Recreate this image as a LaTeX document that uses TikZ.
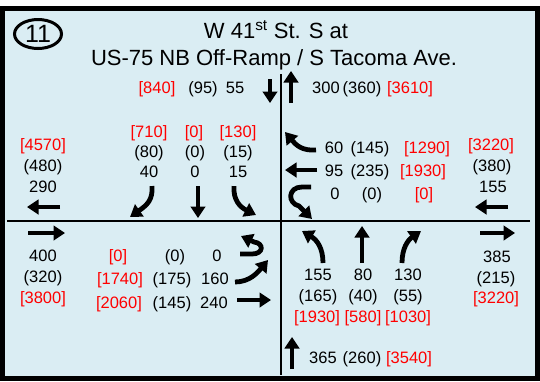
\documentclass[tikz,border=0pt]{standalone}
\usepackage{fontspec}
\setmainfont{Liberation Sans}
\usetikzlibrary{arrows.meta,shapes.geometric}
\definecolor{panelblue}{RGB}{218,237,243}
\definecolor{adtred}{RGB}{255,0,0}
\begin{document}
\begin{tikzpicture}
[x=1pt,y=-1pt,
  countdecorate/.style={font=\fontsize{16.5}{18}\selectfont,inner sep=0pt,text height=11.8pt,text depth=0pt},%
  adtdecorate/.style={countdecorate,text=adtred},%
  titledecorate/.style={font=\fontsize{22}{24}\selectfont,inner sep=0pt,anchor=base},%
  movedecorate/.style={line width=4.8pt,-{Triangle[width=14.5pt,length=11.5pt]}},%
  legdecorate/.style={line width=2.4pt}]
\useasboundingbox (0,0) rectangle (540,381);
%% frame and heading
\draw[line width=5pt,fill=panelblue] (2.5,8.5) rectangle (537.5,378.5);
\node (sitenum) at (38,34) [ellipse,draw,line width=3pt,minimum width=47pt,minimum height=29pt,
  inner sep=0pt,font=\fontsize{25}{25}\selectfont] {11};
\node (title1) at (276,38) [titledecorate] {W 41\textsuperscript{st} St. S at};
\node (title2) at (274,65) [titledecorate] {US-75 NB Off-Ramp / S Tacoma Ave.};
%% roads
\draw[legdecorate] (281,74) -- (281,375);
\draw[legdecorate] (7,221) -- (530,221);
%% counts: peak hours
\foreach \nodename/\x/\y/\vol in {nin-am/235/88/55, nin-pm/203/88/(95), nout-am/326/88/300,
  nout-pm/362/88/(360), wout-pm/43/166/(480), wout-am/43/187/290,
  sbr-pm/149/152/(80), sbr-am/149/172/40, sbt-pm/195/152/(0), sbt-am/195/172/0,
  sbl-pm/238/152/(15), sbl-am/238/172/15,
  wbr-am/334/148/60, wbr-pm/370/148/(145), wbt-am/334/171/95, wbt-pm/370/171/(235),
  wbu-am/335/194/0, wbu-pm/372/194/(0), win-pm/492/166/(380), win-am/493/187/155,
  ein-am/43/256/400, ein-pm/43/277/(320),
  ebu-pm/175/256/(0), ebu-am/217/256/0, ebl-pm/172/279/(175), ebl-am/215/279/160,
  ebt-pm/172/303/(145), ebt-am/214/303/240,
  nbl-am/318/275/155, nbl-pm/318/296/(165), nbt-am/363/275/80, nbt-pm/363/296/(40),
  nbr-am/408/275/130, nbr-pm/408/296/(55), eout-am/497/257/385, eout-pm/496/278/(215),
  sin-am/323/358/365, sin-pm/362/358/(260)} {
  \node (\nodename) at (\x,\y) [countdecorate] {\vol};
}
%% counts: daily
\foreach \nodename/\x/\y/\vol in {nin-adt/157/88/[840], nout-adt/410/88/[3610],
  wout-adt/43/145/[4570], sbr-adt/149/132/[710], sbt-adt/194/132/[0], sbl-adt/238/132/[130],
  wbr-adt/427/148/[1290], wbt-adt/423/171/[1930], wbu-adt/424/194/[0], win-adt/491/145/[3220],
  ein-adt/43/298/[3800], ebu-adt/118/256/[0], ebl-adt/120/279/[1740], ebt-adt/119/303/[2060],
  nbl-adt/317/317/[1930], nbt-adt/363/317/[580], nbr-adt/408/317/[1030],
  eout-adt/496/298/[3220], sin-adt/409/358/[3540]} {
  \node (\nodename) at (\x,\y) [adtdecorate] {\vol};
}
%% movements
\foreach \xa/\ya/\xb/\yb in {60/207/27/207, 508/207/475/207, 28/233/65/233, 480/233/515/233,
  270/79/270/103, 291/103/291/71, 292/369/292/337,
  198/186/198/218, 317/170/285/170, 237/300/271/300, 362/263/362/226} {
  \draw[movedecorate] (\xa,\ya) -- (\xb,\yb);
}
\draw[movedecorate] (152,186) .. controls (153,200) and (147,205) .. (130,217);
\draw[movedecorate] (234,186) .. controls (233,200) and (240,207) .. (256,215);
\draw[movedecorate] (316,150) .. controls (302,151) and (296,145) .. (285,132);
\draw[movedecorate] (311,187) -- (302,187) .. controls (288,187) and (287,203) .. (299,206) -- (312,219);
\draw[movedecorate] (240,254) -- (252,254) .. controls (264,254) and (264,243) .. (254,242) -- (241,236);
\draw[movedecorate] (235,282) .. controls (250,282) and (258,272) .. (268,260);
\draw[movedecorate] (323,263) .. controls (323,248) and (317,240) .. (302,231);
\draw[movedecorate] (402,263) .. controls (402,248) and (408,240) .. (421,231);
\end{tikzpicture}
\end{document}
